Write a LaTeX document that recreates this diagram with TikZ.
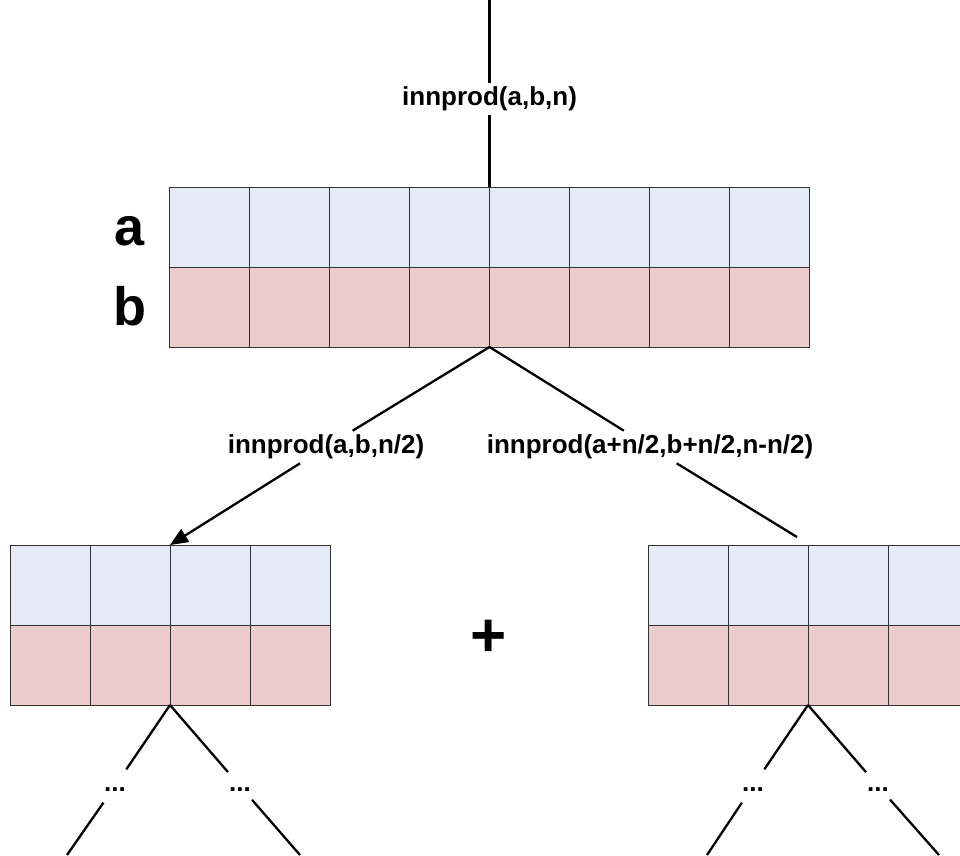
\documentclass[tikz,border=0pt]{standalone}
\usepackage{fontspec}
\setmainfont{Liberation Sans}
\usetikzlibrary{arrows.meta}
\definecolor{cellblue}{HTML}{E4EBF6}
\definecolor{cellpink}{HTML}{EBCCCB}

\tikzset{
  cell/.style={draw=black!80, line width=1pt, minimum size=80pt, inner sep=0pt, outer sep=0pt},
  cella/.style={cell, fill=cellblue},
  cellb/.style={cell, fill=cellpink},
  call/.style={font=\fontsize{26}{30}\selectfont\bfseries, fill=white, inner sep=4pt},
  dots/.style={font=\fontsize{26}{30}\selectfont\bfseries, text height=10pt, text depth=0pt, minimum height=33pt, inner sep=1pt},
  edge/.style={line width=2.3pt},
}

\begin{document}
\begin{tikzpicture}[x=1pt,y=-1pt]
        \useasboundingbox (0,0) rectangle (960,855);
        \clip (0,0) rectangle (960,855);
        
        % top array
        \foreach \i in {1,...,8} {
            \node[cella] (a\i) at ({129.5+80*\i},227) {};
            \node[cellb] (b\i) at ({129.5+80*\i},307) {};
        }
        \node[anchor=base, font=\fontsize{54}{60}\selectfont\bfseries] (laba) at (130,245) {a};
        \node[anchor=base, font=\fontsize{54}{60}\selectfont\bfseries] (labb) at (130,325) {b};
        
        % lower arrays
        \foreach \i in {1,...,4} {
            \node[cella] (la\i) at ({-30+80*\i},585) {};
            \node[cellb] (lb\i) at ({-30+80*\i},665) {};
            \node[cella] (ra\i) at ({608+80*\i},585) {};
            \node[cellb] (rb\i) at ({608+80*\i},665) {};
        }
        \node[font=\fontsize{62}{70}\selectfont\bfseries] (plus) at (489,638) {+};
        
        % calls
        \coordinate (top) at (489.5,0);
        \node[call] (ctop) at (489.5,99) {innprod(a,b,n)};
        \draw[edge] (top) -- (ctop);
        \draw[edge] (ctop) -- (a4.north east);
        
        \node[call] (cl) at (326,447) {innprod(a,b,n/2)};
        \node[call] (cr) at (650,447) {innprod(a+n/2,b+n/2,n-n/2)};
        \coordinate (rend) at (797,537);
        \draw[edge] (b4.south east) -- (cl);
        \draw[edge, -{Triangle[length=18pt,width=15pt]}] (cl) -- (la2.north east);
        \draw[edge] (b4.south east) -- (cr);
        \draw[edge] (cr) -- (rend);
        
        % further splits
        \node[dots] (dl1) at (115,786) {...};
        \node[dots] (dl2) at (240,786) {...};
        \node[dots] (dr1) at (753,786) {...};
        \node[dots] (dr2) at (878,786) {...};
        \coordinate (el1) at (67,855);
        \coordinate (el2) at (300,855);
        \coordinate (er1) at (707,855);
        \coordinate (er2) at (939,855);
        
        \draw[edge] (lb2.south east) -- (dl1);
        \draw[edge] (dl1) -- (el1);
        \draw[edge] (lb2.south east) -- (dl2);
        \draw[edge] (dl2) -- (el2);
        \draw[edge] (rb2.south east) -- (dr1);
        \draw[edge] (dr1) -- (er1);
        \draw[edge] (rb2.south east) -- (dr2);
        \draw[edge] (dr2) -- (er2);
    \end{tikzpicture}
\end{document}
